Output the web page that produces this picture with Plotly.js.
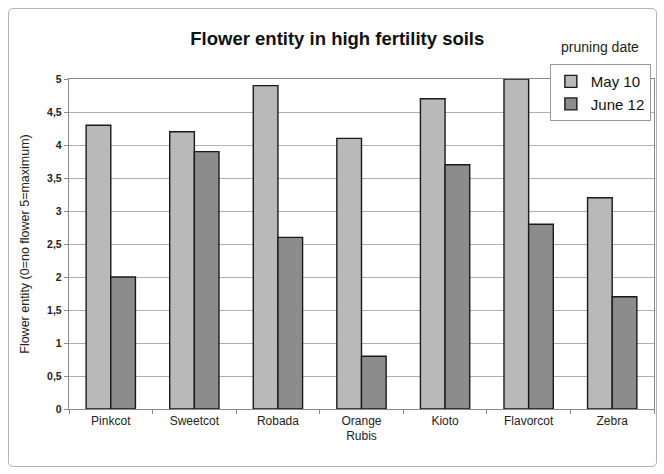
<!DOCTYPE html>
<html>
<head>
<meta charset="utf-8">
<script src="https://cdn.plot.ly/plotly-3.0.1.min.js"></script>
<style>
  html, body { margin: 0; padding: 0; background: #ffffff; }
  #wrap { position: relative; width: 664px; height: 474px; }
  #chart { width: 664px; height: 474px; }
  #frame { position: absolute; left: 8px; top: 8px; width: 647px; height: 457px;
           border: 1.5px solid #b4b4b4; border-radius: 5px; pointer-events: none; }
</style>
</head>
<body>
<div id="wrap">
  <div id="chart"></div>
  <div id="frame"></div>
</div>
<script>
const categories = ["Pinkcot", "Sweetcot", "Robada", "Orange<br>Rubis", "Kioto", "Flavorcot", "Zebra"];
const seriesNames = ["May 10", "June 12"];
const may10 = [4.3, 4.2, 4.9, 4.1, 4.7, 5.0, 3.2];
const june12 = [2.0, 3.9, 2.6, 0.8, 3.7, 2.8, 1.7];
const yTicks = [0, 0.5, 1, 1.5, 2, 2.5, 3, 3.5, 4, 4.5, 5];
const titleText = "Flower entity in high fertility soils";
const yTitle = "Flower entity (0=no flower 5=maximum)";
const legendTitle = "pruning date";

const font = "Liberation Sans, Arial, sans-serif";

const traces = [
  { type: "bar", name: seriesNames[0], x: categories, y: may10,
    marker: { color: "#b9b9b9", line: { color: "#1a1a1a", width: 1.4 } } },
  { type: "bar", name: seriesNames[1], x: categories, y: june12,
    marker: { color: "#8c8c8c", line: { color: "#1a1a1a", width: 1.4 } } }
];

const layout = {
  width: 664, height: 474,
  margin: { l: 69, r: 10, t: 79, b: 65 },
  paper_bgcolor: "#ffffff", plot_bgcolor: "#ffffff",
  separators: ",.",
  font: { family: font, color: "#222222" },
  title: { text: "<b>" + titleText + "</b>", font: { size: 18.5, color: "#111111", family: font },
           x: 0.508, xanchor: "center", y: 0.918, yanchor: "middle" },
  barmode: "group", bargap: 0.41, bargroupgap: 0,
  xaxis: {
    type: "category",
    showline: true, linecolor: "#8a8a8a", linewidth: 1.2, mirror: true,
    ticks: "outside", tickson: "boundaries", ticklen: 4, tickcolor: "#8a8a8a",
    tickfont: { size: 12, color: "#222222", family: font },
    showgrid: false
  },
  yaxis: {
    range: [0, 5], tickvals: yTicks,
    showline: true, linecolor: "#8a8a8a", linewidth: 1.2, mirror: true,
    ticks: "outside", ticklen: 4, tickcolor: "#8a8a8a",
    gridcolor: "#b0b0b0", gridwidth: 1,
    tickfont: { size: 10.5, color: "#222222", family: font, weight: "bold" },
    title: { text: yTitle, font: { size: 12.5, color: "#222222", family: font }, standoff: 14 },
    zeroline: false
  },
  showlegend: true,
  legend: {
    x: 0.822, y: 1.045, xanchor: "left", yanchor: "top",
    bgcolor: "#ffffff", bordercolor: "#9a9a9a", borderwidth: 1,
    font: { size: 15, color: "#111111", family: font },
    itemwidth: 30, tracegroupgap: 0
  },
  annotations: [
    { text: legendTitle, xref: "paper", yref: "paper", x: 0.908, y: 1.097,
      xanchor: "center", yanchor: "middle", showarrow: false,
      font: { size: 14, color: "#222222", family: font } }
  ]
};

Plotly.newPlot("chart", traces, layout, { displayModeBar: false, staticPlot: true });
</script>
</body>
</html>
